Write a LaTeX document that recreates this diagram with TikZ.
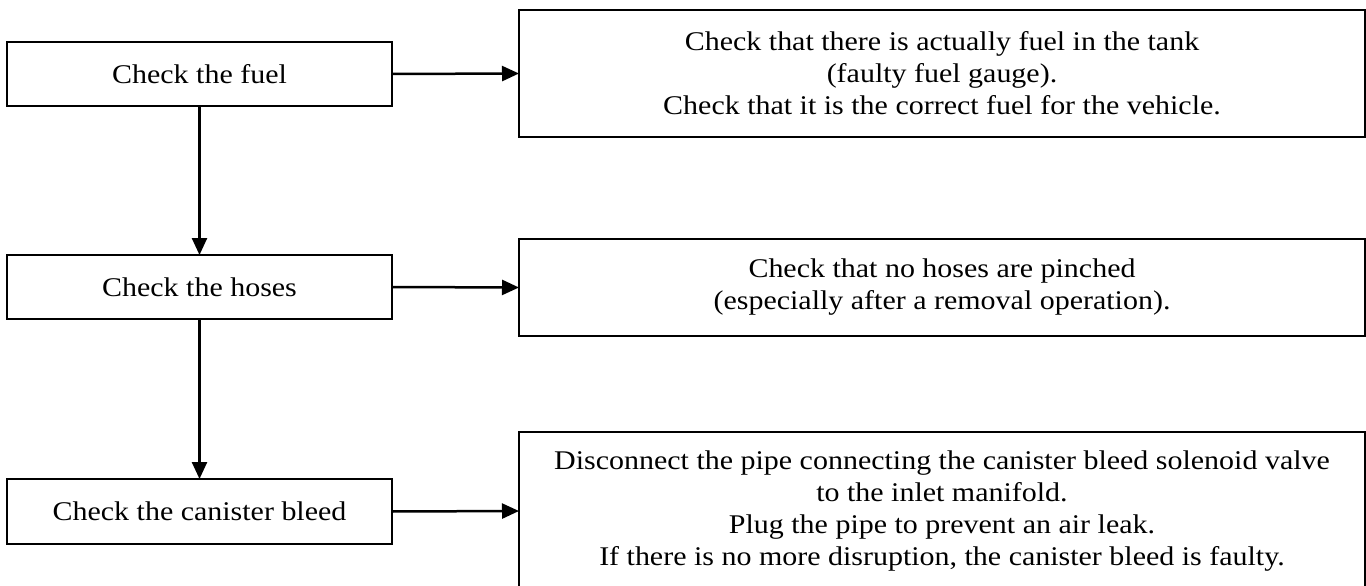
\documentclass[tikz,border=0pt]{standalone}
\usepackage{fontspec}
\setmainfont{Liberation Serif}[FakeStretch=1.11]
\usetikzlibrary{arrows.meta}
\begin{document}
\begin{tikzpicture}[x=1pt,y=-1pt,
  box/.style={draw=black,line width=2.5pt,inner sep=0pt,outer sep=0pt,align=center,
    font=\fontsize{27}{32}\selectfont},
  lbox/.style={box,minimum width=385pt},
  rbox/.style={box,minimum width=846pt},
  arr/.style={line width=2.5pt,-{Triangle[length=17pt,width=15pt]}}]
\clip (0,0) rectangle (1366,586);
\fill[white] (0,0) rectangle (1366,586);
\node[lbox,minimum height=64pt] (f) at (199.5,74) {Check the fuel};
\node[lbox,minimum height=64pt] (h) at (199.5,287) {Check the hoses};
\node[lbox,minimum height=65pt] (c) at (199.5,511.5) {Check the canister bleed};
\node[rbox,minimum height=127pt] (rf) at (942,73.5) {Check that there is actually fuel in the tank\\(faulty fuel gauge).\\Check that it is the correct fuel for the vehicle.};
\node[rbox,minimum height=97pt] (rh) at (942,287.5) {Check that no hoses are pinched\\(especially after a removal operation).};
\node[rbox,minimum height=158pt] (rc) at (942,511) {Disconnect the pipe connecting the canister bleed solenoid valve\\to the inlet manifold.\\Plug the pipe to prevent an air leak.\\If there is no more disruption, the canister bleed is faulty.};
\draw[arr] (f.east) -- (rf.west);
\draw[arr] (h.east) -- (rh.west);
\draw[arr] (c.east) -- (rc.west);
\draw[arr] (f.south) -- (h.north);
\draw[arr] (h.south) -- (c.north);
\end{tikzpicture}
\end{document}
